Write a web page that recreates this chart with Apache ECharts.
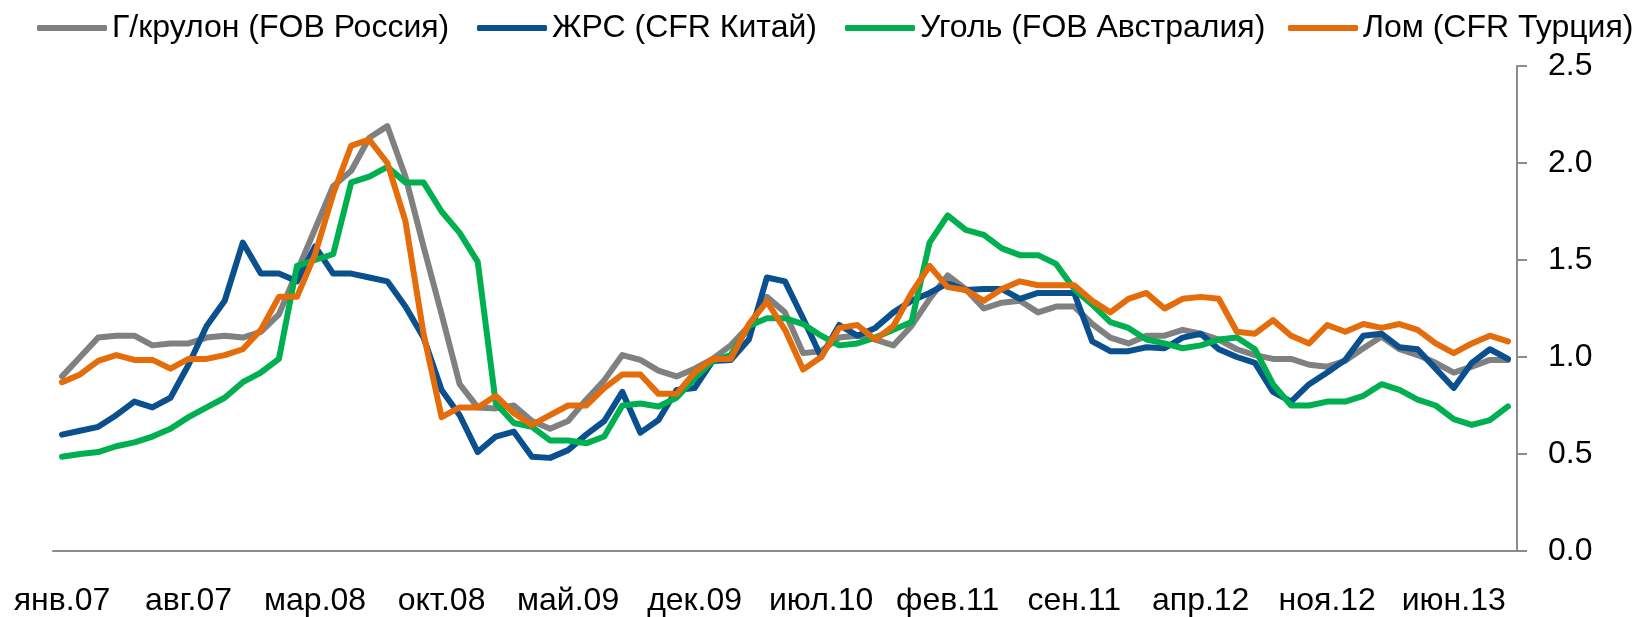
<!DOCTYPE html>
<html>
<head>
<meta charset="utf-8">
<script src="https://cdn.jsdelivr.net/npm/echarts@6/dist/echarts.min.js"></script>
<style>
  html, body { margin: 0; padding: 0; background: #fff; }
  #chart { width: 1640px; height: 617px; }
</style>
</head>
<body>
<div id="chart"></div>
<script>
// месяцы янв.07 - сен.13
const monthNames = ['янв', 'фев', 'мар', 'апр', 'май', 'июн', 'июл', 'авг', 'сен', 'окт', 'ноя', 'дек']
const years = ['07', '08', '09', '10', '11', '12', '13']
const lastMonthCount = 9

const categories = []
years.forEach((y, yi) => {
  const n = yi === years.length - 1 ? lastMonthCount : 12
  for (let m = 0; m < n; m++) categories.push(monthNames[m] + '.' + y)
})

const seriesNames = ['Г/крулон (FOB Россия)', 'ЖРС (CFR Китай)', 'Уголь (FOB Австралия)', 'Лом (CFR Турция)']

// Г/крулон
const coilData = [
  0.90, 1.00, 1.10, 1.11, 1.11, 1.06, 1.07, 1.07, 1.10, 1.11, 1.10, 1.13, 1.22,
  1.44, 1.66, 1.88, 1.96, 2.13, 2.19, 1.93, 1.57, 1.22, 0.86,
  0.74, 0.735, 0.75, 0.67, 0.63, 0.67, 0.78, 0.88, 1.01, 0.985,
  0.93, 0.90, 0.94, 0.99, 1.06, 1.16, 1.31, 1.23, 1.02, 1.03,
  1.10, 1.11, 1.09, 1.06, 1.16, 1.30, 1.42, 1.35, 1.25, 1.28,
  1.29, 1.23, 1.26, 1.26, 1.17, 1.10, 1.07, 1.11, 1.11, 1.14,
  1.12, 1.09, 1.04, 1.01, 0.99, 0.99, 0.96, 0.95, 0.98, 1.045,
  1.105, 1.04, 1.01, 0.97, 0.92, 0.95, 0.985, 0.985
]
// ЖРС
const oreData = [
  0.60, 0.62, 0.64, 0.70, 0.77, 0.74, 0.79, 0.96, 1.16, 1.29, 1.59, 1.43, 1.43,
  1.39, 1.57, 1.43, 1.43, 1.41, 1.39, 1.26, 1.10, 0.83, 0.70,
  0.51, 0.59, 0.615, 0.486, 0.48, 0.52, 0.60, 0.67, 0.82, 0.61,
  0.675, 0.83, 0.84, 0.98, 0.985, 1.09, 1.41, 1.39, 1.20, 1.00,
  1.165, 1.11, 1.15, 1.23, 1.29, 1.33, 1.38, 1.345, 1.35, 1.35,
  1.30, 1.33, 1.33, 1.33, 1.08, 1.03, 1.03, 1.05, 1.045, 1.10,
  1.12, 1.04, 1.00, 0.97, 0.82, 0.77, 0.86, 0.92, 0.985, 1.11,
  1.12, 1.05, 1.04, 0.94, 0.84, 0.97, 1.04, 0.99
]
// Уголь
const coalData = [
  0.486, 0.50, 0.51, 0.54, 0.56, 0.59, 0.63, 0.69, 0.74, 0.79, 0.87, 0.92, 0.99,
  1.47, 1.50, 1.53, 1.90, 1.93, 1.98, 1.90, 1.90, 1.75, 1.64,
  1.49, 0.76, 0.66, 0.64, 0.57, 0.57, 0.555, 0.59, 0.75, 0.76,
  0.745, 0.79, 0.89, 0.98, 1.01, 1.16, 1.20, 1.20, 1.17, 1.11,
  1.06, 1.07, 1.10, 1.14, 1.18, 1.59, 1.73, 1.655, 1.63, 1.56,
  1.525, 1.525, 1.48, 1.35, 1.27, 1.18, 1.15, 1.09, 1.07, 1.045,
  1.06, 1.09, 1.10, 1.04, 0.86, 0.75, 0.75, 0.77, 0.77, 0.80,
  0.86, 0.83, 0.78, 0.75, 0.68, 0.65, 0.675, 0.745
]
// Лом
const scrapData = [
  0.87, 0.91, 0.98, 1.01, 0.985, 0.985, 0.94, 0.99, 0.99, 1.01, 1.04, 1.14, 1.31,
  1.31, 1.53, 1.84, 2.09, 2.12, 2.00, 1.70, 1.12, 0.69, 0.74,
  0.74, 0.80, 0.71, 0.65, 0.70, 0.75, 0.75, 0.84, 0.91, 0.91,
  0.81, 0.81, 0.92, 0.99, 0.99, 1.17, 1.285, 1.14, 0.935, 1.00,
  1.15, 1.165, 1.09, 1.16, 1.33, 1.47, 1.36, 1.345, 1.29, 1.35,
  1.39, 1.37, 1.37, 1.37, 1.29, 1.23, 1.30, 1.33, 1.25, 1.30,
  1.31, 1.30, 1.13, 1.12, 1.19, 1.11, 1.07, 1.165, 1.13, 1.17,
  1.15, 1.17, 1.14, 1.07, 1.02, 1.07, 1.11, 1.08
]

const colors = ['#808080', '#0a4f8e', '#00b050', '#e46c0a']
const legendLeft = [32, 472, 840, 1283]
const font = 'Liberation Sans, Arial, sans-serif'
const axisColor = '#8c8c8c'

const chart = echarts.init(document.getElementById('chart'))

const makeSeries = (name, data, color) => ({
  name,
  type: 'line',
  data,
  symbol: 'none',
  color,
  lineStyle: { width: 6, color, cap: 'round', join: 'round' }
})

chart.setOption({
  animation: false,
  textStyle: { fontFamily: font },
  legend: seriesNames.map((name, i) => ({
    data: [name],
    left: legendLeft[i],
    top: 7,
    icon: 'roundRect',
    itemWidth: 70,
    itemHeight: 6,
    textStyle: { fontSize: 32, color: '#000', fontFamily: font }
  })),
  grid: { left: 53, right: 123, top: 66, bottom: 65 },
  xAxis: {
    type: 'category',
    boundaryGap: true,
    data: categories,
    axisLine: { lineStyle: { color: axisColor, width: 2 } },
    axisTick: { interval: 6, length: 11, lineStyle: { color: axisColor, width: 2 } },
    axisLabel: { interval: 6, fontSize: 32, color: '#000', margin: 34, fontFamily: font }
  },
  yAxis: {
    type: 'value',
    position: 'right',
    min: 0,
    max: 2.5,
    interval: 0.5,
    splitLine: { show: false },
    axisLine: { show: true, lineStyle: { color: axisColor, width: 2 } },
    axisTick: { show: true, length: 10, lineStyle: { color: axisColor, width: 2 } },
    axisLabel: {
      fontSize: 32,
      color: '#000',
      margin: 31,
      fontFamily: font,
      formatter: v => v.toFixed(1)
    }
  },
  series: [
    makeSeries(seriesNames[0], coilData, colors[0]),
    makeSeries(seriesNames[1], oreData, colors[1]),
    makeSeries(seriesNames[2], coalData, colors[2]),
    makeSeries(seriesNames[3], scrapData, colors[3])
  ]
})
</script>
</body>
</html>
